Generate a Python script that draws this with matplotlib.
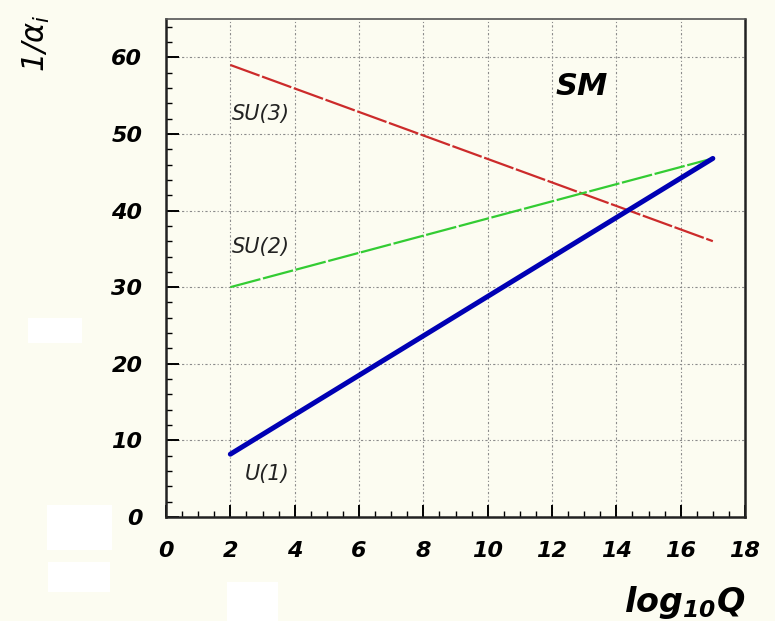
import matplotlib
matplotlib.use("Agg")
import matplotlib.pyplot as plt
from matplotlib.patches import Rectangle
from matplotlib.ticker import MultipleLocator

plt.rcParams['mathtext.fontset'] = 'custom'
plt.rcParams['mathtext.bf'] = 'DejaVu Sans:bold:italic'
plt.rcParams['mathtext.it'] = 'DejaVu Sans:italic'
plt.rcParams['mathtext.rm'] = 'DejaVu Sans:italic'

# running couplings, endpoints
log_q = [2, 17]
u1 = [8.2, 46.8]
su2 = [30.0, 46.8]
su3 = [59.0, 36.0]

bg = '#fcfcf1'
fig = plt.figure(figsize=(7.75, 6.21), dpi=100, facecolor=bg)
ax = fig.add_axes([166 / 775, 1 - 517 / 621, 579 / 775, 498 / 621], facecolor=bg)

ax.plot(log_q, su3, color='#cc2b2b', lw=1.6, dashes=(14, 1.2))
ax.plot(log_q, su2, color='#33cc33', lw=1.6, dashes=(14, 1.2))
ax.plot(log_q, u1, color='#0000b4', lw=3.6, solid_capstyle='round')

ax.set_xlim(0, 18)
ax.set_ylim(0, 65)
ax.xaxis.set_major_locator(MultipleLocator(2))
ax.xaxis.set_minor_locator(MultipleLocator(0.5))
ax.yaxis.set_major_locator(MultipleLocator(10))
ax.yaxis.set_minor_locator(MultipleLocator(2))
ax.set_yticks(range(0, 61, 10))

ax.grid(True, which='major', color='#8a8a8a', lw=0.8, linestyle=(0, (2, 2, 1, 2)))
ax.set_axisbelow(True)

ax.tick_params(which='both', direction='in', top=False, right=False)
ax.tick_params(which='major', length=9, width=1.4, pad=17, labelsize=16)
ax.tick_params(which='minor', length=4.5, width=1.0)
for lab in ax.get_xticklabels() + ax.get_yticklabels():
    lab.set_fontweight('bold')
    lab.set_fontstyle('italic')

for side in ['left', 'bottom', 'right']:
    ax.spines[side].set_linewidth(1.8)
    ax.spines[side].set_color('#222222')
ax.spines['top'].set_linewidth(1.2)
ax.spines['top'].set_color('#555555')

ax.text(2.05, 51.8, 'SU(3)', fontsize=15, style='italic', color='#222222')
ax.text(2.05, 34.4, 'SU(2)', fontsize=15, style='italic', color='#222222')
ax.text(2.45, 4.8, 'U(1)', fontsize=15, style='italic', color='#222222')
ax.text(12.1, 55.1, 'SM', fontsize=22, fontweight='bold', style='italic')

fig.text(745 / 775, 1 - 612 / 621, r'$\mathbf{log_{10}Q}$', fontsize=24,
         ha='right', va='baseline')
fig.text(36 / 775, 1 - 43 / 621, r'$1/\alpha_i$', fontsize=22,
         rotation=90, ha='center', va='center')

# blank white patches in the original picture
for x0, y0, x1, y1 in [(28, 318, 82, 343), (47, 505, 112, 550),
                       (48, 562, 110, 592), (227, 582, 278, 621)]:
    fig.patches.append(Rectangle((x0 / 775, 1 - y1 / 621), (x1 - x0) / 775,
                                 (y1 - y0) / 621, transform=fig.transFigure,
                                 facecolor='white', edgecolor='none'))

fig.savefig('out.png', dpi=100, facecolor=bg)
